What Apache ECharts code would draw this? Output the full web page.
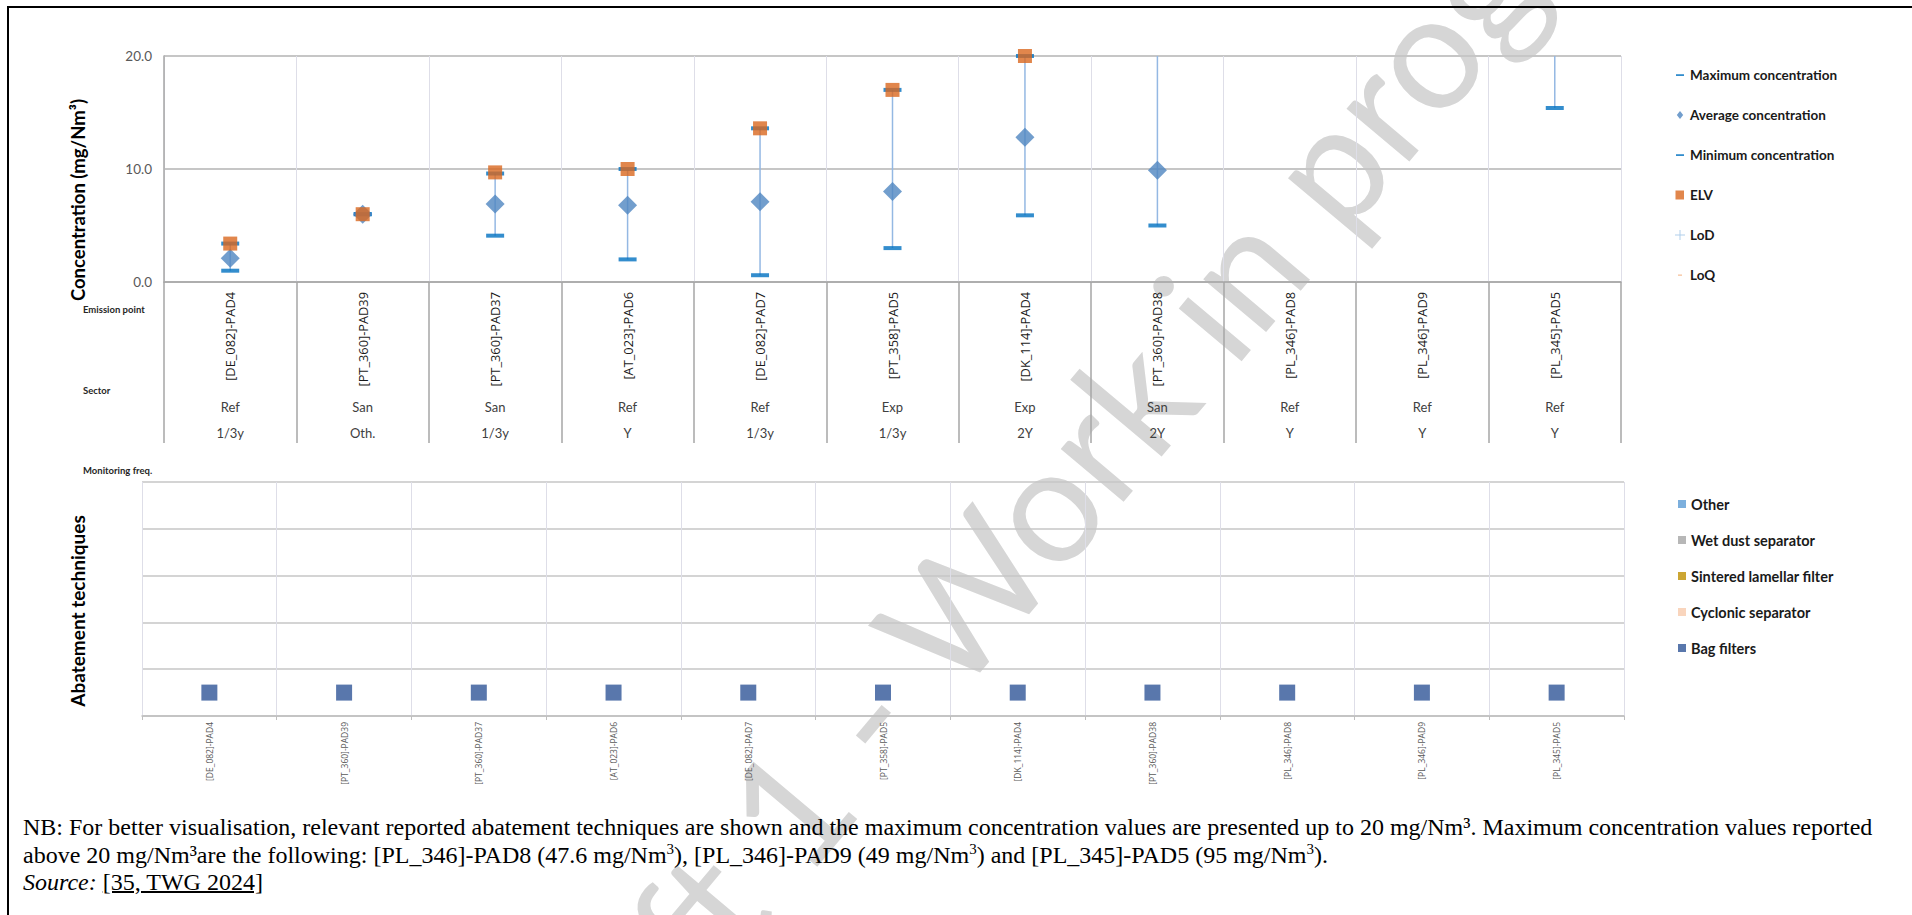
<!DOCTYPE html>
<html>
<head>
<meta charset="utf-8">
<script src="https://cdn.jsdelivr.net/npm/echarts@6/dist/echarts.min.js"></script>
<style>
html,body{margin:0;padding:0;background:#fff;}
#chart{position:absolute;left:0;top:0;width:1912px;height:915px;}
#frame{position:absolute;left:7px;top:6px;right:0;bottom:0;border-top:2px solid #000;border-left:2px solid #000;pointer-events:none;}
#note{position:absolute;left:23px;top:814px;font-family:'Liberation Serif','Times New Roman',serif;font-size:24px;line-height:27.6px;color:#000;white-space:nowrap;}
#note u{text-decoration-thickness:2px;}
#note sup{font-size:15px;line-height:0;vertical-align:9px;}
</style>
</head>
<body>
<div id="chart"></div>
<div id="frame"></div>
<div id="note">NB: For better visualisation, relevant reported abatement techniques are shown and the maximum concentration values are presented up to 20 mg/Nm³. Maximum concentration values reported<br>above 20 mg/Nm³are the following: [PL_346]-PAD8 (47.6 mg/Nm<sup>3</sup>), [PL_346]-PAD9 (49 mg/Nm<sup>3</sup>) and [PL_345]-PAD5 (95 mg/Nm<sup>3</sup>).<br><i>Source:</i> <u>[35, TWG 2024]</u></div>
<script>
// ---- data ----
const categories = ['[DE_082]-PAD4','[PT_360]-PAD39','[PT_360]-PAD37','[AT_023]-PAD6','[DE_082]-PAD7','[PT_358]-PAD5','[DK_114]-PAD4','[PT_360]-PAD38','[PL_346]-PAD8','[PL_346]-PAD9','[PL_345]-PAD5'];
const sectors = ['Ref','San','San','Ref','Ref','Exp','Exp','San','Ref','Ref','Ref'];
const monitoringFreq = ['1/3y','Oth.','1/3y','Y','1/3y','1/3y','2Y','2Y','Y','Y','Y'];
const maxConc = [3.4, 6.0, 9.6, 10.0, 13.6, 17.0, 20.0, 20.4, 47.6, 49, 95];
const avgConc = [2.1, 6.0, 6.9, 6.8, 7.1, 8.0, 12.8, 9.9, null, null, null];
const minConc = [1.0, 6.0, 4.1, 2.0, 0.6, 3.0, 5.9, 5.0, null, null, 15.4];
const elv = [3.4, 6.0, 9.7, 10.0, 13.6, 17.0, 20.0, null, null, null, null];
const lod = [];
const loq = [];
const yTicks = [0, 10, 20];
const techniques = ['Bag filters','Cyclonic separator','Sintered lamellar filter','Wet dust separator','Other'];
const bagFilters = [1,1,1,1,1,1,1,1,1,1,1];
const cyclonicSeparator = [0,0,0,0,0,0,0,0,0,0,0];
const sinteredLamellarFilter = [0,0,0,0,0,0,0,0,0,0,0];
const wetDustSeparator = [0,0,0,0,0,0,0,0,0,0,0];
const otherTech = [0,0,0,0,0,0,0,0,0,0,0];

function techPoints(flags, name){
  const out = [];
  flags.forEach((f,i)=>{ if(f) out.push([i, name]); });
  return out;
}

const chart = echarts.init(document.getElementById('chart'), null, {renderer:'svg'});
const GRIDLINE = '#C6C6C6';
const VLINE = '#DEDEE8';
const AXIS = '#A6A6A6';

const option = {
  animation: false,
  backgroundColor: '#fff',
  grid: [
    {left:164, right:291, top:56, bottom:633, outerBoundsMode:'none', containLabel:false},
    {left:142, right:288, top:482, bottom:199, outerBoundsMode:'none', containLabel:false}
  ],
  xAxis: [
    {type:'category', gridIndex:0, data:categories, boundaryGap:true,
     axisLine:{show:true, lineStyle:{color:AXIS, width:1.5}},
     axisTick:{show:true, interval:0, length:161, lineStyle:{color:AXIS, width:1.5}},
     axisLabel:{interval:0, rotate:90, margin:10, fontFamily:'Open Sans', fontSize:12.8, color:'#1a1a1a'},
     splitLine:{show:true, interval:0, lineStyle:{color:VLINE, width:1}}},
    {type:'category', gridIndex:0, data:categories, position:'bottom', offset:118,
     axisLine:{show:false}, axisTick:{show:false}, splitLine:{show:false},
     axisLabel:{interval:0, margin:0, fontFamily:'Lato', fontSize:13, color:'#404040',
       formatter:(v,i)=>sectors[i]}},
    {type:'category', gridIndex:0, data:categories, position:'bottom', offset:144,
     axisLine:{show:false}, axisTick:{show:false}, splitLine:{show:false},
     axisLabel:{interval:0, margin:0, fontFamily:'Lato', fontSize:13, color:'#404040',
       formatter:(v,i)=>monitoringFreq[i]}},
    {type:'category', gridIndex:1, data:categories, boundaryGap:true,
     axisLine:{show:true, lineStyle:{color:'#BFBFBF', width:1.5}},
     axisTick:{show:true, interval:0, length:4, lineStyle:{color:'#BFBFBF', width:1}},
     axisLabel:{interval:0, rotate:90, margin:6, fontFamily:'Open Sans', fontSize:8.5, color:'#595959'},
     splitLine:{show:true, interval:0, lineStyle:{color:VLINE, width:1}}}
  ],
  yAxis: [
    {type:'value', gridIndex:0, min:yTicks[0], max:yTicks[yTicks.length-1], interval:yTicks[1]-yTicks[0],
     axisLine:{show:true, lineStyle:{color:AXIS, width:1.5}}, axisTick:{show:false},
     axisLabel:{margin:12, fontFamily:'Lato', fontSize:13.5, color:'#595959', formatter:v=>v.toFixed(1)},
     splitLine:{show:true, lineStyle:{color:GRIDLINE, width:2}}},
    {type:'category', gridIndex:1, data:techniques, boundaryGap:true,
     axisLine:{show:false}, axisTick:{show:false}, axisLabel:{show:false},
     splitLine:{show:true, interval:0, lineStyle:{color:GRIDLINE, width:1.5}}}
  ],
  legend: [
    {orient:'vertical', left:1670, top:62, itemWidth:10, itemHeight:10, itemGap:24, selectedMode:false,
     textStyle:{fontFamily:'Lato', fontWeight:'bold', fontSize:13.5, color:'#1a1a1a', lineHeight:16},
     data:[
       {name:'Maximum concentration', icon:'path://M0,0M10,10M1,4.2h8v1.8h-8z'},
       {name:'Average concentration', icon:'path://M0,0M10,10M5,1L8.2,5L5,9L1.8,5Z'},
       {name:'Minimum concentration', icon:'path://M0,0M10,10M1,4.2h8v1.8h-8z'},
       {name:'ELV', icon:'path://M0,0M10,10M0.5,0.5h8.5v9h-8.5z'},
       {name:'LoD', icon:'path://M0,0M10,10M4.5,0h1v4.5h4.5v1h-4.5v4.5h-1v-4.5h-4.5v-1h4.5z'},
       {name:'LoQ', icon:'path://M0,0M10,10M3,4.5h4v1.3h-4z'}
     ]},
    {orient:'vertical', left:1673, top:491, itemWidth:8, itemHeight:8, itemGap:20, selectedMode:false,
     textStyle:{fontFamily:'Lato', fontWeight:'bold', fontSize:14.5, color:'#1a1a1a', lineHeight:16},
     data:[
       {name:'Other', icon:'rect'},
       {name:'Wet dust separator', icon:'rect'},
       {name:'Sintered lamellar filter', icon:'rect'},
       {name:'Cyclonic separator', icon:'rect'},
       {name:'Bag filters', icon:'rect'}
     ]}
  ],
  graphic: [
    {type:'text', x:1088, y:447, rotation:50*Math.PI/180, z:-100, silent:true,
     style:{text:'Draft 1 - Work in progress', font:'162px Lato', fill:'#D6D6D6', align:'center', verticalAlign:'middle'}},
    {type:'text', x:78, y:200, rotation:Math.PI/2, silent:true,
     style:{text:'Concentration (mg/Nm³)', font:'bold 18.5px Lato', fill:'#000', align:'center', verticalAlign:'middle'}},
    {type:'text', x:77, y:611, rotation:Math.PI/2, silent:true,
     style:{text:'Abatement techniques', font:'bold 19px Lato', fill:'#000', align:'center', verticalAlign:'middle'}},
    {type:'text', x:83, y:309, silent:true,
     style:{text:'Emission point', font:'bold 9.5px Lato', fill:'#262626', align:'left', verticalAlign:'middle'}},
    {type:'text', x:83, y:390, silent:true,
     style:{text:'Sector', font:'bold 9.5px Lato', fill:'#262626', align:'left', verticalAlign:'middle'}},
    {type:'text', x:83, y:470, silent:true,
     style:{text:'Monitoring freq.', font:'bold 9.5px Lato', fill:'#262626', align:'left', verticalAlign:'middle'}}
  ],
  series: [
    {type:'custom', name:'range', xAxisIndex:0, yAxisIndex:0, z:2, silent:true,
     data: categories.map((c,i)=>[i, minConc[i], maxConc[i]]),
     encode:{x:0, y:[1,2]},
     renderItem:function(params, api){
       const lo = api.value(1), hi = api.value(2);
       if (isNaN(lo) || isNaN(hi)) return null;
       const cs = params.coordSys;
       const p1 = api.coord([api.value(0), lo]);
       const p2 = api.coord([api.value(0), hi]);
       const yTop = Math.max(p2[1], cs.y);
       const yBot = Math.min(p1[1], cs.y + cs.height);
       return {type:'line', shape:{x1:p1[0], y1:yBot, x2:p1[0], y2:yTop},
               style:{stroke:'#94B8E3', lineWidth:1.5}};
     }},
    {type:'scatter', name:'Maximum concentration', xAxisIndex:0, yAxisIndex:0, z:3, clip:true, silent:true,
     symbol:'rect', symbolSize:[18,4], itemStyle:{color:'#0070C0'}, data:maxConc},
    {type:'scatter', name:'Minimum concentration', xAxisIndex:0, yAxisIndex:0, z:3, clip:true, silent:true,
     symbol:'rect', symbolSize:[18,4], itemStyle:{color:'#0070C0'}, data:minConc},
    {type:'scatter', name:'Average concentration', xAxisIndex:0, yAxisIndex:0, z:4, clip:true, silent:true,
     symbol:'diamond', symbolSize:[19,19], itemStyle:{color:'#4F86C0'}, data:avgConc},
    {type:'scatter', name:'ELV', xAxisIndex:0, yAxisIndex:0, z:5, clip:false, silent:true,
     symbol:'rect', symbolSize:[14,14], itemStyle:{color:'#D9681F'}, data:elv},
    {type:'scatter', name:'LoD', xAxisIndex:0, yAxisIndex:0, itemStyle:{color:'#9DC3E6'}, data:lod},
    {type:'scatter', name:'LoQ', xAxisIndex:0, yAxisIndex:0, itemStyle:{color:'#F4B183'}, data:loq},
    {type:'scatter', name:'Other', xAxisIndex:3, yAxisIndex:1, symbol:'rect', symbolSize:16,
     itemStyle:{color:'#5B9BD5'}, data:techPoints(otherTech,'Other')},
    {type:'scatter', name:'Wet dust separator', xAxisIndex:3, yAxisIndex:1, symbol:'rect', symbolSize:16,
     itemStyle:{color:'#A5A5A5'}, data:techPoints(wetDustSeparator,'Wet dust separator')},
    {type:'scatter', name:'Sintered lamellar filter', xAxisIndex:3, yAxisIndex:1, symbol:'rect', symbolSize:16,
     itemStyle:{color:'#BF9000'}, data:techPoints(sinteredLamellarFilter,'Sintered lamellar filter')},
    {type:'scatter', name:'Cyclonic separator', xAxisIndex:3, yAxisIndex:1, symbol:'rect', symbolSize:16,
     itemStyle:{color:'#F8CBAD'}, data:techPoints(cyclonicSeparator,'Cyclonic separator')},
    {type:'scatter', name:'Bag filters', xAxisIndex:3, yAxisIndex:1, symbol:'rect', symbolSize:16, silent:true,
     itemStyle:{color:'#2F5597'}, data:techPoints(bagFilters,'Bag filters')}
  ]
};
chart.setOption(option);
</script>
</body>
</html>
